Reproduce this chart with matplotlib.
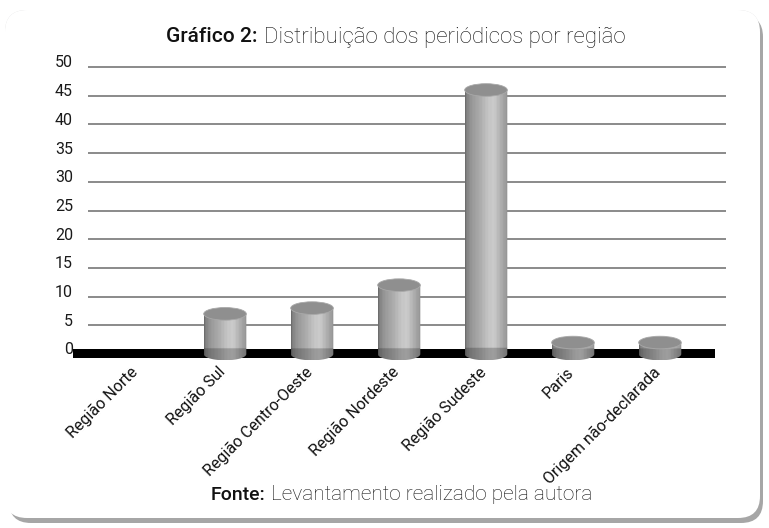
import numpy as np
import matplotlib
matplotlib.use("Agg")
import matplotlib.pyplot as plt
import matplotlib.transforms as mtransforms
from matplotlib.patches import FancyBboxPatch, Ellipse, Rectangle, PathPatch
from matplotlib.path import Path

# ----------------------------------------------------------------------------
# data
regions = ['Região Norte', 'Região Sul', 'Região Centro-Oeste', 'Região Nordeste',
           'Região Sudeste', 'Paris', 'Origem não-declarada']
counts  = [0, 7, 8, 12, 46, 2, 2]
yticks  = [0, 5, 10, 15, 20, 25, 30, 35, 40, 45, 50]

title_bold  = 'Gráfico 2:'
title_rest  = 'Distribuição dos periódicos por região'
source_bold = 'Fonte:'
source_rest = 'Levantamento realizado pela autora'

# ----------------------------------------------------------------------------
W, H = 769, 528
plt.rcParams['font.family'] = ['Roboto', 'DejaVu Sans']

fig = plt.figure(figsize=(W / 100, H / 100), dpi=100)
fig.patch.set_facecolor('white')


def px(x, y):
    return x / W, 1 - y / H


# background panel (pixel coordinates)
bg = fig.add_axes([0, 0, 1, 1], zorder=-10)
bg.set_xlim(0, W)
bg.set_ylim(H, 0)
bg.axis('off')

shadow = FancyBboxPatch((9, 15), 754, 508, boxstyle='round,pad=0,rounding_size=22',
                        facecolor='#a6a6a6', edgecolor='none')
bg.add_patch(shadow)
panel = FancyBboxPatch((5, 10), 755, 508, boxstyle='round,pad=0,rounding_size=22',
                       facecolor='white', edgecolor='none')
bg.add_patch(panel)
yy   = np.linspace(10, 518, 300)
grey = np.interp(yy, [10, 120, 240, 340, 380, 518], [0.85, 0.905, 0.95, 0.985, 1.0, 1.0])
grad = np.repeat(grey[:, None], 2, axis=1)
im = bg.imshow(np.dstack([grad, grad, grad * 1.005]).clip(0, 1),
               extent=(5, 760, 518, 10), aspect='auto', interpolation='bilinear')
im.set_clip_path(panel)
bg.set_xlim(0, W)
bg.set_ylim(H, 0)

# main axes
ax = fig.add_axes([80 / W, 1 - 365.5 / H, 648 / W, (365.5 - 61.3) / H])
ax.set_facecolor('none')
ax.set_xlim(-0.667, 6.782)
ax.set_ylim(-2, 51)
for s in ax.spines.values():
    s.set_visible(False)

# grid lines on the back wall
ax.hlines(yticks[1:], -0.575, 6.76, color='#6b6b6b', lw=1.1, zorder=1)

# black floor
ax.add_patch(Rectangle((-0.747, -0.7), 7.38, 1.55, facecolor='black',
                       edgecolor='none', zorder=2, clip_on=False))

# cylinders
bw = 0.49
eh = 1.1
xs = np.linspace(0, 1, 120)
profile = np.interp(xs, [0, 0.04, 0.15, 0.35, 0.55, 0.68, 0.85, 1.0],
                    [0.42, 0.52, 0.60, 0.68, 0.78, 0.80, 0.68, 0.58])
streak = np.where((np.arange(xs.size) % 9) == 0, -0.04, 0.0)
profile = profile + streak

for i, v in enumerate(counts):
    if v <= 0:
        continue
    x0, x1 = i - bw / 2, i + bw / 2
    t = np.linspace(np.pi, 2 * np.pi, 40)
    verts = [(i + bw / 2 * np.cos(a), eh * np.sin(a)) for a in t]
    verts += [(x1, v), (x0, v), verts[0]]
    codes = [Path.MOVETO] + [Path.LINETO] * (len(verts) - 2) + [Path.CLOSEPOLY]
    body = PathPatch(Path(verts, codes), facecolor='none', edgecolor='none')
    ax.add_patch(body)

    ys = np.linspace(-eh, v, 200)
    shade = np.where(ys < 0.9, 0.78, 1.0)
    img = np.clip(shade[:, None] * profile[None, :], 0, 1)
    bim = ax.imshow(np.dstack([img, img, img]), extent=(x0, x1, -eh, v),
                    origin='lower', aspect='auto', interpolation='bilinear', zorder=3)
    bim.set_clip_path(body)

    ax.add_patch(Ellipse((i, v), bw, 2 * eh, facecolor='#8f8f8f',
                         edgecolor='#a8a8a8', lw=0.6, zorder=4))

ax.set_xlim(-0.667, 6.782)
ax.set_ylim(-2, 51)

# ticks
ax.set_yticks(yticks)
ax.set_yticklabels([str(t) for t in yticks], fontsize=11.5, color='#1a1a1a')
ax.tick_params(axis='y', length=0, pad=5)
up = mtransforms.ScaledTranslation(0, 4 / 72, fig.dpi_scale_trans)
for lab in ax.get_yticklabels():
    lab.set_transform(lab.get_transform() + up)

ax.set_xticks(range(len(regions)))
ax.set_xticklabels(regions, rotation=45, ha='right', va='center',
                   rotation_mode='anchor', fontsize=11.5, color='#111111')
ax.tick_params(axis='x', length=0, pad=3)
shift = mtransforms.ScaledTranslation(-1.5 / 72, 0, fig.dpi_scale_trans)
for lab in ax.get_xticklabels():
    lab.set_transform(lab.get_transform() + shift)

# title and source
fig.text(*px(257, 37), title_bold, ha='right', va='center', fontsize=15,
         fontweight='medium', color='#111111')
fig.text(*px(264, 37), title_rest, ha='left', va='center', fontsize=16,
         fontweight='light', color='#111111')
fig.text(*px(265, 495), source_bold, ha='right', va='center', fontsize=14,
         fontweight='medium', color='#111111')
fig.text(*px(271, 495), source_rest, ha='left', va='center', fontsize=15,
         fontweight='light', color='#111111')

fig.savefig('out.png', dpi=100, facecolor='white')
